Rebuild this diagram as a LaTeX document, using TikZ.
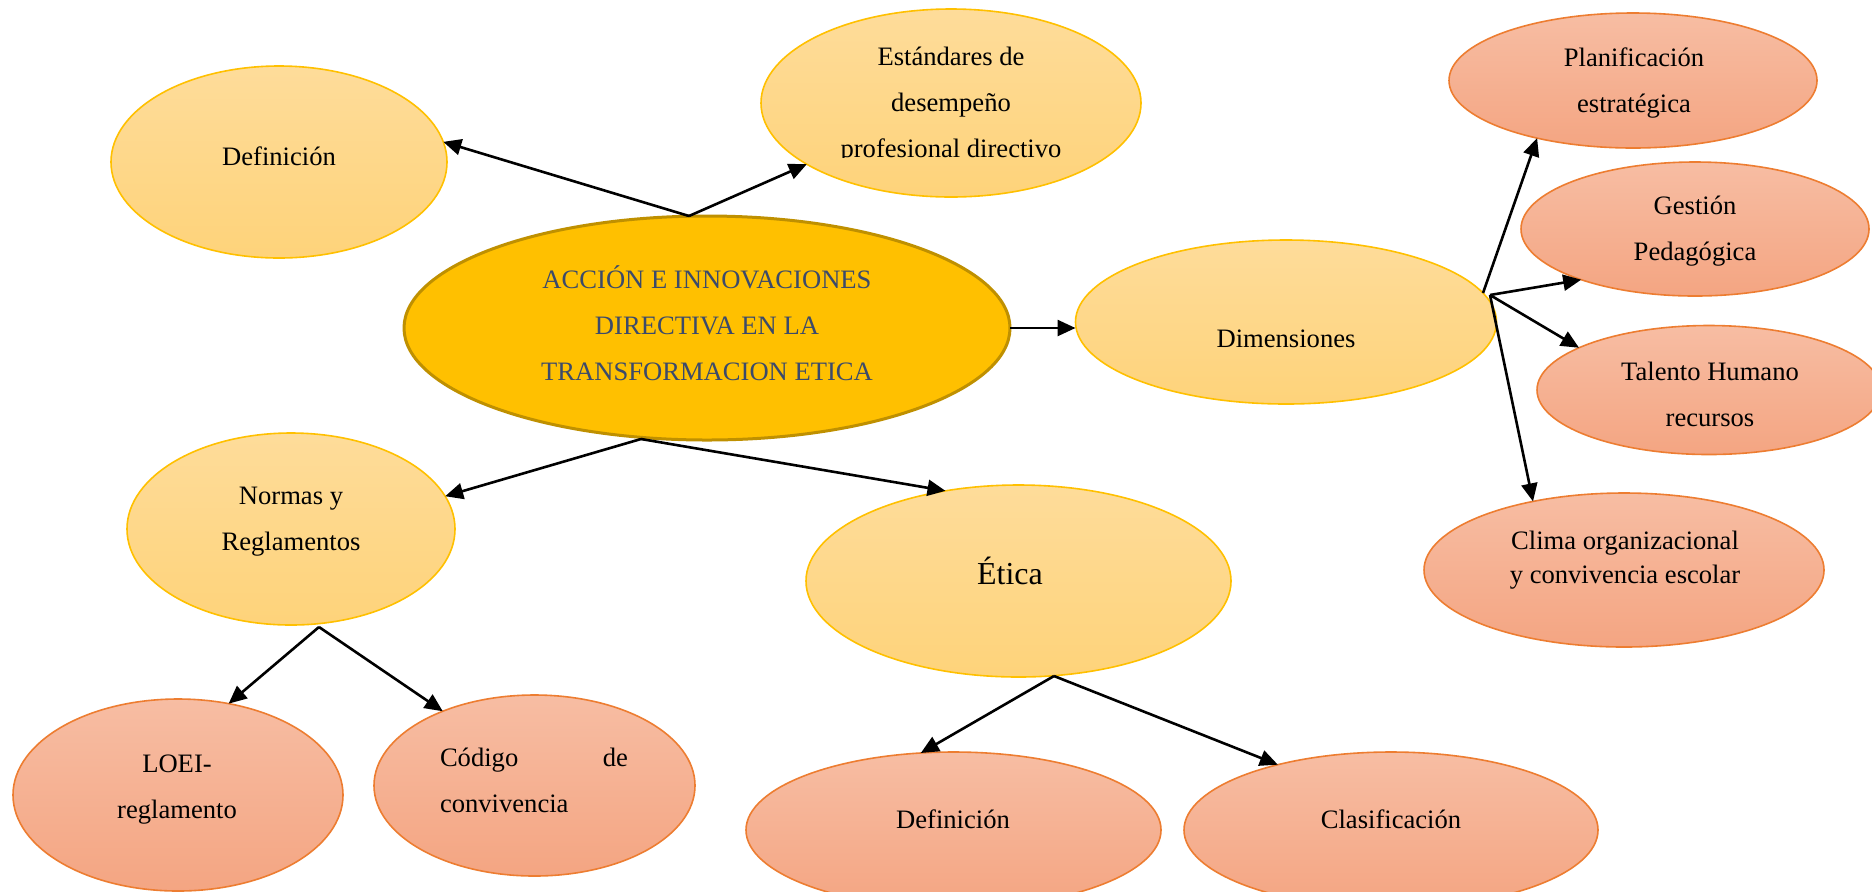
\documentclass[tikz,border=0pt]{standalone}
\usepackage{fontspec}
\setmainfont{Liberation Serif}
\usetikzlibrary{shapes.geometric,arrows.meta}
\definecolor{ylTop}{HTML}{FEDC9A}
\definecolor{ylBot}{HTML}{FED37A}
\definecolor{ylLine}{HTML}{FFC000}
\definecolor{saTop}{HTML}{F7BDA3}
\definecolor{saBot}{HTML}{F4A582}
\definecolor{saLine}{HTML}{ED7D31}
\definecolor{cenFill}{HTML}{FFC000}
\definecolor{cenLine}{HTML}{BF9000}
\definecolor{cenText}{HTML}{3B4A6B}
\tikzset{
  bub/.style={ellipse, inner sep=0pt, outer sep=0pt},
  yel/.style={bub, draw=ylLine, line width=0.8pt, top color=ylTop, bottom color=ylBot},
  sal/.style={bub, draw=saLine, line width=0.8pt, top color=saTop, bottom color=saBot},
  cenbub/.style={bub, draw=cenLine, line width=1.5pt, fill=cenFill},
  lbl/.style={inner sep=0pt, align=center, font=\fontsize{13.3}{23}\selectfont},
  conn/.style={line width=1.3pt, -{Triangle[length=9pt,width=8pt]}},
}
\begin{document}
\begin{tikzpicture}[x=0.5pt,y=-0.5pt]
\clip (0,0) rectangle (1872,891);
\fill[white] (0,0) rectangle (1872,891);
% ellipses
\node[yel, minimum width=168pt, minimum height=96pt] (def1) at (279,162) {};
\node[yel, minimum width=190pt, minimum height=94pt] (std) at (951,103) {};
\node[cenbub, minimum width=303pt, minimum height=112pt] (cen) at (707,328) {};
\node[yel, minimum width=210.5pt, minimum height=82pt] (dim) at (1286,322) {};
\node[sal, minimum width=184pt, minimum height=67.5pt] (pla) at (1633,80.5) {};
\node[sal, minimum width=174pt, minimum height=67pt] (ges) at (1695,229) {};
\node[sal, minimum width=172pt, minimum height=64.5pt] (tal) at (1709,390) {};
\node[sal, minimum width=200pt, minimum height=77pt] (cli) at (1624,570) {};
\node[yel, minimum width=212.5pt, minimum height=96pt] (eti) at (1018.5,581) {};
\node[yel, minimum width=164pt, minimum height=96pt] (nor) at (291,529) {};
\node[sal, minimum width=165pt, minimum height=96pt] (loei) at (178,795) {};
\node[sal, minimum width=160.5pt, minimum height=90.5pt] (cod) at (534.5,785.5) {};
\node[sal, minimum width=207.5pt, minimum height=78pt] (def2) at (953.5,830) {};
\node[sal, minimum width=207pt, minimum height=78pt] (cla) at (1391,830) {};
% texts
\node[lbl] (tdef1) at (279,156) {Definición};
\begin{scope}
\clip (740,0) rectangle (1160,157);
\node[lbl] (tstd) at (951,105) {Estándares de\\desempeño\\profesional directivo};
\end{scope}
\node[lbl, text=cenText] (tcen) at (707,323) {ACCIÓN E INNOVACIONES\\DIRECTIVA EN LA\\TRANSFORMACION ETICA};
\node[lbl] (tdim) at (1286,339) {Dimensiones};
\node[lbl] (tpla) at (1634,82.5) {Planificación\\estratégica};
\node[lbl] (tges) at (1695,231) {Gestión\\Pedagógica};
\node[lbl] (ttal) at (1710,394) {Talento Humano\\recursos};
\node[lbl, font=\fontsize{13.3}{17}\selectfont] (tcli) at (1625,560) {Clima organizacional\\y convivencia escolar};
\node[lbl, font=\fontsize{16}{20}\selectfont] (teti) at (1010,571) {Ética};
\node[lbl] (tnor) at (291,522) {Normas y\\Reglamentos};
\node[lbl] (tloei) at (177,790) {LOEI-\\reglamento};
\node[lbl, align=left] (tcod) at (534,780) {\hbox to 94pt{Código\hfill de}\\convivencia};
\node[lbl] (tdef2) at (953,819) {Definición};
\node[lbl] (tcla) at (1391,819) {Clasificación};
% junction points
\coordinate (cT) at (689,216);
\coordinate (cB) at (641,439);
\coordinate (nB) at (319,627);
\coordinate (eB) at (1054,676);
\coordinate (dj) at (1490,295);
\coordinate (dj2) at (1483,293);
% connectors
\draw[conn] (cT) -- (def1.7);
\draw[conn] (cT) -- (std.203);
\draw[conn] (cen.east) -- (cen.east -| dim.west);
\draw[conn] (cB) -- (nor.12);
\draw[conn] (cB) -- (eti.129);
\draw[conn] (nB) -- (loei.61);
\draw[conn] (nB) -- (cod.141);
\draw[conn] (eB) -- (def2.113);
\draw[conn] (eB) -- (cla.150);
\draw[conn] (dj2) -- (pla.211);
\draw[conn] (dj) -- (ges.204);
\draw[conn] (dj) -- (tal.162);
\draw[conn] (dj) -- (cli.143);
\end{tikzpicture}
\end{document}
